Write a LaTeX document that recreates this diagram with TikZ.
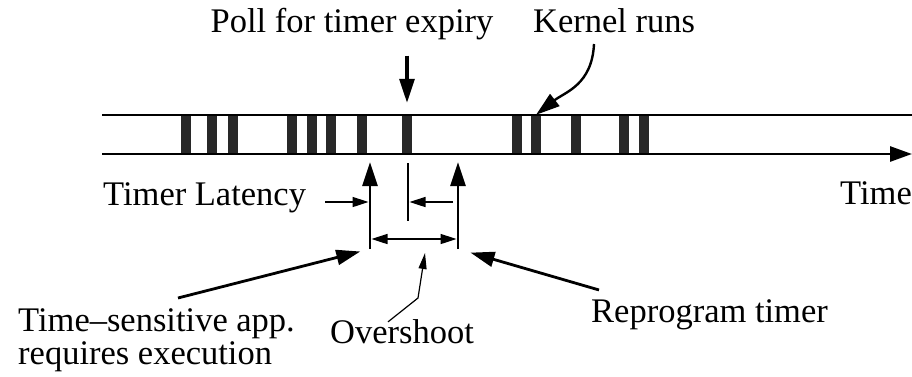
\documentclass[tikz,border=0pt]{standalone}
\usepackage{fontspec}
\setmainfont{Liberation Serif}
\usetikzlibrary{arrows.meta, calc}
\definecolor{cRun}{RGB}{40,40,40}
\tikzset{
	lbl/.style     ={inner sep=0pt, font=\fontsize{34.5}{33}\selectfont},
	run/.style     ={rectangle, fill=cRun, minimum width=10.5pt, minimum height=39pt, inner sep=0pt},
	bigarrow/.style={-{Triangle[length=24pt, width=15pt]}, line width=2.8pt},
	dimarrow/.style={-{Triangle[length=16pt, width=10pt]}, line width=1.6pt},
	twoarrow/.style={{Triangle[length=16pt, width=10pt]}-{Triangle[length=16pt, width=10pt]}, line width=1.6pt},
	thinarrow/.style={-{Triangle[length=16pt, width=8pt]}, line width=1.2pt},
}
\begin{document}
\begin{tikzpicture}[x=1pt, y=-1pt]
	\useasboundingbox (0,0) rectangle (912,376);
	% kernel runs on the time line
	\foreach \x [count=\i] in {186,212,233,292,312,331,362,407,517,536,576,624,644}
		\node[run] (b\i) at (\x,134.5) {};
	\coordinate (tl) at (102,115); \coordinate (tr) at (912,115);
	\coordinate (bl) at (102,154); \coordinate (br) at (912,154);
	\draw[line width=2.4pt] (tl) -- (tr);
	\draw[-{Triangle[length=22pt, width=15pt]}, line width=2.8pt] (bl) -- (br);
	% labels
	\node[lbl, anchor=base] (poll) at (352,32) {Poll for timer expiry};
	\node[lbl, anchor=base west] (kernel) at (533,32) {Kernel runs};
	\node[lbl, anchor=base west] (lat) at (103,205) {Timer Latency};
	\node[lbl, anchor=base east] (time) at (912,204) {Time};
	\node[lbl, anchor=north west, align=left] (app) at (18,308) {Time–sensitive app.\\requires execution};
	\node[lbl, anchor=base west] (over) at (330,343) {Overshoot};
	\node[lbl, anchor=base west] (reprog) at (591,322) {Reprogram timer};
	% events below the line
	\coordinate (reqtop) at (370,162); \coordinate (reqbot) at (370,249);
	\coordinate (rptop) at (458,162);  \coordinate (rpbot) at (458,249);
	\coordinate (exptop) at (408,163); \coordinate (expbot) at (408,221);
	\coordinate (latA) at (325,202);   \coordinate (latB) at (453,202);
	\coordinate (kt) at (594,44);
	\draw[bigarrow] (reqbot) -- (reqtop); \draw[bigarrow] (rpbot) -- (rptop);
	\draw[line width=2.8pt] (exptop) -- (expbot);
	\draw[bigarrow, line width=3.2pt, shorten <=16pt, shorten >=12pt] (b8 |- poll.south) -- (b8.north);
	\draw[bigarrow, line width=2.4pt] (kt) .. controls (592,85) and (565,92) .. (b10.north);
	\draw[dimarrow, shorten >=1.5pt] (latA) -- (latA -| reqtop);
	\draw[dimarrow, shorten >=1.5pt] (latB) -- (latB -| exptop);
	\draw[twoarrow, shorten <=1.5pt, shorten >=1.5pt] ($(reqbot)+(0,-10)$) -- ($(rpbot)+(0,-10)$);
	\draw[bigarrow, shorten >=10pt] ($(app.north west)+(160,-10)$) -- (reqbot);
	\draw[bigarrow, shorten >=13pt] ($(reprog.north west)+(8,-9)$) -- (rpbot);
	\draw[thinarrow] ($(over.north west)+(58,3)$) -- (418,298) -- (425,253);
\end{tikzpicture}
\end{document}
